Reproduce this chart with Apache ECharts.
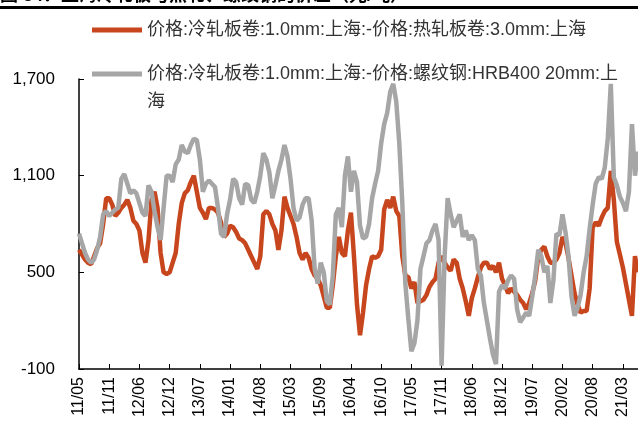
<!DOCTYPE html>
<html>
<head>
<meta charset="utf-8">
<script src="https://cdn.jsdelivr.net/npm/echarts@6/dist/echarts.min.js"></script>
<style>
html,body{margin:0;padding:0;background:#fff;}
#chart{width:638px;height:426px;}
</style>
</head>
<body>
<div id="chart"></div>
<script>
var tickLabels = ['11/05','11/11','12/06','12/12','13/07','14/01','14/08','15/03','15/09','16/04','16/10','17/05','17/11','18/06','18/12','19/07','20/02','20/08','21/03'];

var nameHot = '价格:冷轧板卷:1.0mm:上海:-价格:热轧板卷:3.0mm:上海';
var nameRebar = '价格:冷轧板卷:1.0mm:上海:-价格:螺纹钢:HRB400 20mm:上海';

var spreadHot = [
640,610,580,560,550,600,650,680,800,960,
960,920,850,870,900,920,950,900,820,800,
760,620,560,700,950,1000,900,620,500,490,
500,560,620,800,930,990,1010,1060,1100,1000,
900,870,830,900,900,890,870,810,720,740,
790,780,750,710,700,680,640,600,560,520,
600,860,880,860,800,760,640,760,970,900,
850,800,720,620,580,620,590,520,480,460,
420,350,280,280,420,600,720,620,600,760,
870,600,300,110,250,420,520,600,590,600,
640,890,950,900,970,880,850,600,480,470,
400,440,310,320,330,360,410,440,460,560,
600,560,530,510,580,560,460,400,320,230,
340,400,470,530,560,560,520,540,500,560,
460,420,370,400,380,360,330,310,270,310,
370,450,600,640,660,600,560,560,580,620,
720,680,590,480,370,300,250,260,260,400,
780,810,790,840,880,900,1130,950,690,610,
530,430,330,230,600,500
];

var spreadRebar = [
740,680,620,580,560,580,640,720,860,880,
850,870,890,900,1080,1110,1050,990,1010,990,
930,870,850,1040,1000,880,780,700,900,1100,
1100,1060,1170,1200,1290,1250,1240,1290,1330,1320,
1200,1000,1050,1070,1050,1030,900,740,720,860,
950,1080,1060,960,920,1050,1040,950,930,1000,
1100,1240,1200,1120,960,1040,1130,1200,1290,1220,
1080,900,820,840,920,960,960,820,520,430,
560,500,320,300,480,860,900,780,1100,1220,
1000,1130,1060,790,710,720,800,960,1050,1130,
1300,1420,1490,1620,1670,1560,1300,930,430,210,
10,60,200,520,600,680,700,760,800,700,
-80,600,960,860,780,820,860,720,760,700,
730,700,520,480,310,200,90,-10,-70,380,
420,400,450,480,460,270,190,220,250,230,
350,480,640,600,500,540,310,450,740,730,
860,750,600,350,230,280,360,500,600,770,
920,1050,1090,1080,1150,1330,1670,1090,1040,970,
930,880,1000,1420,1100,1250
];

var categories = spreadHot.map(function (v, i) {
  var k = Math.floor(i / 10);
  return i % 10 === 0 ? tickLabels[k] : tickLabels[k] + '+' + (i % 10);
});

var FONT = '"Liberation Sans", "Noto Sans CJK SC", sans-serif';

var chart = echarts.init(document.getElementById('chart'), null, {renderer: 'canvas'});
chart.setOption({
  animation: false,
  backgroundColor: '#ffffff',
  title: {
    text: '图 34：上海冷轧板与热轧、螺纹钢的价差（元/吨）',
    left: 0,
    top: -13,
    padding: 0,
    textStyle: {fontSize: 18, fontWeight: 'bold', color: '#000', fontFamily: FONT}
  },
  graphic: [{
    type: 'rect',
    shape: {x: 0, y: 6, width: 638, height: 3},
    style: {fill: '#000'}
  }],
  legend: [{
    data: [nameHot],
    left: 92,
    top: 21,
    padding: 0,
    icon: 'rect',
    itemWidth: 50,
    itemHeight: 5,
    itemGap: 6,
    textStyle: {fontSize: 18, color: '#333', fontFamily: FONT}
  }, {
    data: [nameRebar],
    left: 92,
    top: 32,
    padding: 0,
    icon: 'rect',
    itemWidth: 50,
    itemHeight: 5,
    itemGap: 6,
    formatter: function () {
      return ' \n价格:冷轧板卷:1.0mm:上海:-价格:螺纹钢:HRB400 20mm:上\n海';
    },
    textStyle: {fontSize: 18, color: '#333', fontFamily: FONT, lineHeight: 28}
  }],
  grid: {left: 79, top: 79, width: 560, bottom: 57, containLabel: false},
  xAxis: {
    type: 'category',
    data: categories,
    boundaryGap: false,
    axisLine: {show: true, onZero: false, lineStyle: {color: '#000', width: 1.5}},
    axisTick: {show: true, inside: true, length: 5, interval: 9, lineStyle: {color: '#000'}},
    axisLabel: {
      interval: 9,
      rotate: 90,
      margin: 8,
      fontSize: 16,
      color: '#000',
      fontFamily: FONT
    },
    splitLine: {show: false}
  },
  yAxis: {
    type: 'value',
    min: -100,
    max: 1700,
    interval: 600,
    axisLine: {show: true, lineStyle: {color: '#000', width: 1.5}},
    axisTick: {show: true, inside: true, length: 5, lineStyle: {color: '#000'}},
    axisLabel: {
      margin: 24,
      fontSize: 17,
      color: '#000',
      fontFamily: FONT,
      formatter: function (v) { return v.toLocaleString('en-US'); }
    },
    splitLine: {show: false}
  },
  series: [{
    name: nameHot,
    type: 'line',
    data: spreadHot,
    symbol: 'none',
    color: '#C8461E',
    lineStyle: {width: 4.5, color: '#C8461E'}
  }, {
    name: nameRebar,
    type: 'line',
    data: spreadRebar,
    symbol: 'none',
    color: '#A6A6A6',
    lineStyle: {width: 4.5, color: '#A6A6A6'}
  }]
});
</script>
</body>
</html>
